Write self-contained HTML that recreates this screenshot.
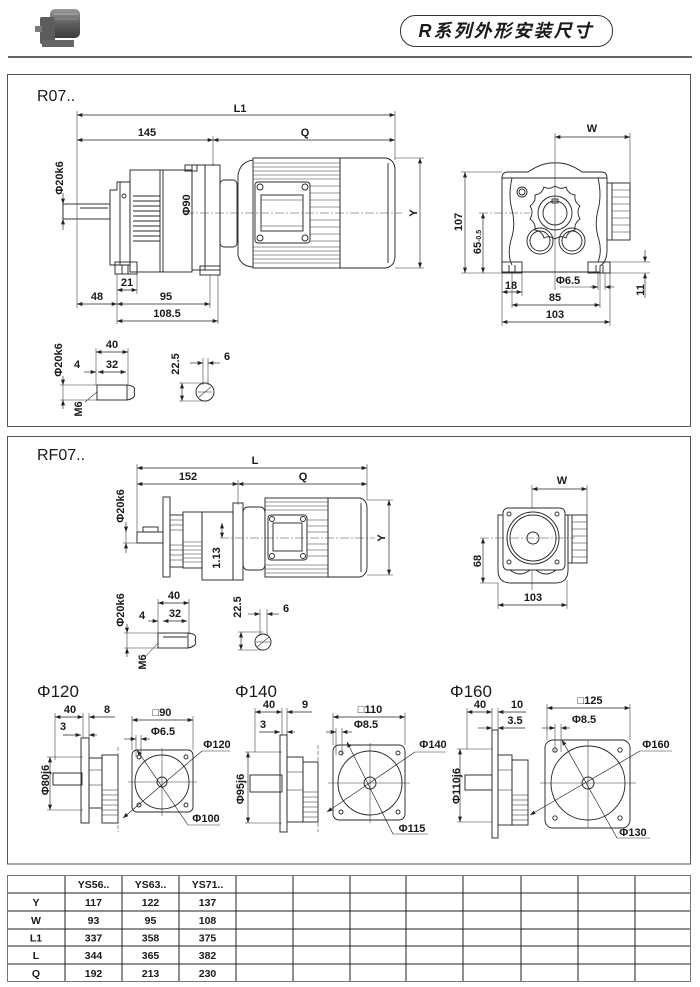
<!DOCTYPE html>
<html><head><meta charset="utf-8"><style>
html,body{margin:0;padding:0;background:#fff}
svg{display:block}
.l{fill:none;stroke:#2a2a2a;stroke-width:.95}
.e{stroke:#333;stroke-width:.55;fill:none}
.d{stroke:#222;stroke-width:.65;fill:none;marker-start:url(#a);marker-end:url(#a)}
.d1{stroke:#222;stroke-width:.65;fill:none;marker-end:url(#a)}
.c{stroke:#444;stroke-width:.55;stroke-dasharray:9 2 2 2;fill:none}
.k{stroke:#444;stroke-width:.6;stroke-dasharray:4 2;fill:none}
text{font-family:"Liberation Sans",Arial,"DejaVu Sans",sans-serif;fill:#1a1a1a}
.t{font-size:11px;font-weight:bold;text-anchor:middle}
.h{font-size:16px}
.tb{font-size:10.5px;font-weight:bold;text-anchor:middle}
</style></head><body>
<svg width="700" height="987" viewBox="0 0 700 987" xmlns="http://www.w3.org/2000/svg">
<defs>
<marker id="a" viewBox="0 0 8 6" refX="8" refY="3" markerWidth="6" markerHeight="4" markerUnits="userSpaceOnUse" orient="auto-start-reverse"><path d="M0,0L8,3L0,6z" fill="#222"/></marker>
<linearGradient id="g1" x1="0" y1="0" x2="0" y2="1"><stop offset="0" stop-color="#9a9a9a"/><stop offset=".5" stop-color="#5e5e5e"/><stop offset="1" stop-color="#3a3a3a"/></linearGradient>
</defs>

<!-- HEADER -->
<g>
<rect x="50" y="9" width="30" height="29" rx="5" fill="url(#g1)"/>
<rect x="40" y="17" width="15" height="27" rx="2" fill="#5c5c5c"/>
<rect x="35" y="26" width="7" height="6" fill="#7a7a7a"/>
<rect x="42" y="40" width="32" height="7" fill="#666"/>
<line x1="54" y1="14" x2="78" y2="14" stroke="#b0b0b0" stroke-width="1"/>
<line x1="54" y1="19" x2="78" y2="19" stroke="#999" stroke-width=".8"/>
</g>
<rect x="400.5" y="15.5" width="212" height="31" rx="15" fill="#fff" stroke="#333" stroke-width="1"/>
<text x="506" y="37" style="font-size:18px;font-style:italic;font-weight:bold;text-anchor:middle;letter-spacing:2px;font-family:'Liberation Sans','Noto Sans CJK SC',sans-serif">R系列外形安装尺寸</text>
<line x1="8" y1="57" x2="692" y2="57" stroke="#333" stroke-width="1.5"/>

<!-- FRAMES -->
<rect x="7.5" y="74.5" width="683" height="352" fill="none" stroke="#555" stroke-width="1"/>
<rect x="7.5" y="436.5" width="683" height="427.5" fill="none" stroke="#555" stroke-width="1"/>

<!-- ================= R07 ================= -->
<text x="37" y="101" class="h">R07..</text>
<line class="e" x1="77" y1="111" x2="77" y2="308"/>
<line class="e" x1="395" y1="111" x2="395" y2="160"/>
<line class="e" x1="213" y1="136" x2="213" y2="166"/>
<line class="d" x1="77" y1="115" x2="395" y2="115"/>
<line class="d" x1="77" y1="140" x2="213" y2="140"/>
<line class="d" x1="213" y1="140" x2="395" y2="140"/>
<text class="t" x="240" y="112">L1</text>
<text class="t" x="147" y="136">145</text>
<text class="t" x="305" y="136">Q</text>

<text class="t" transform="translate(59,178) rotate(-90)" y="4">Φ20k6</text>
<line class="d1" x1="63" y1="193" x2="63" y2="204"/>
<line class="d1" x1="63" y1="230" x2="63" y2="219"/>
<line class="e" x1="63" y1="204" x2="63" y2="219"/>

<g class="l">
<rect x="63" y="204" width="47" height="15"/>
<line x1="80" y1="208" x2="108" y2="208"/>
<path d="M110,190 H117 V182 H130 V265 H110 Z"/>
<line x1="120" y1="182" x2="120" y2="265"/>
<circle cx="124" cy="196" r="2"/>
<rect x="130" y="170" width="62" height="102"/>
<line x1="160" y1="170" x2="160" y2="272"/>
<line x1="163" y1="170" x2="163" y2="272"/>
<line x1="133" y1="196" x2="160" y2="196"/><line x1="133" y1="201" x2="160" y2="201"/>
<line x1="133" y1="206" x2="160" y2="206"/><line x1="133" y1="211" x2="160" y2="211"/>
<line x1="133" y1="216" x2="160" y2="216"/><line x1="133" y1="221" x2="160" y2="221"/>
<line x1="133" y1="226" x2="160" y2="226"/><line x1="133" y1="231" x2="160" y2="231"/>
<line x1="133" y1="236" x2="160" y2="236"/><line x1="133" y1="241" x2="160" y2="241"/>
<rect x="192" y="165" width="28" height="105"/>
<line x1="205" y1="165" x2="205" y2="270"/>
<rect x="185" y="165" width="12" height="6"/>
<rect x="115" y="262" width="22" height="12"/>
<line x1="122" y1="265" x2="122" y2="274"/><line x1="128" y1="265" x2="128" y2="274"/>
<rect x="200" y="266" width="20" height="9"/>
<rect x="220" y="180" width="17" height="67" rx="4"/>
<path d="M253,160 Q240,162 238,175 V255 Q240,266 253,267"/>
<rect x="253" y="158" width="87" height="110"/>
<path d="M340,158 H386 Q395,160 395,170 V256 Q395,266 386,268 H340 Z"/>
<line x1="388" y1="163" x2="388" y2="263"/>
<rect x="255" y="182" width="55" height="61" rx="3"/>
<rect x="261" y="195" width="42" height="36"/>
<circle cx="260" cy="187" r="3"/><circle cx="305" cy="187" r="3"/>
<circle cx="260" cy="238" r="3"/><circle cx="305" cy="238" r="3"/>
</g>
<g class="e">
<line x1="253" y1="163" x2="340" y2="163"/><line x1="253" y1="167" x2="340" y2="167"/>
<line x1="253" y1="171" x2="340" y2="171"/><line x1="253" y1="175" x2="340" y2="175"/>
<line x1="253" y1="179" x2="340" y2="179"/>
<line x1="253" y1="247" x2="340" y2="247"/><line x1="253" y1="251" x2="340" y2="251"/>
<line x1="253" y1="255" x2="340" y2="255"/><line x1="253" y1="259" x2="340" y2="259"/>
<line x1="253" y1="263" x2="340" y2="263"/>
<line x1="310" y1="186" x2="340" y2="186"/><line x1="310" y1="193" x2="340" y2="193"/>
<line x1="310" y1="200" x2="340" y2="200"/><line x1="310" y1="207" x2="340" y2="207"/>
<line x1="310" y1="220" x2="340" y2="220"/><line x1="310" y1="227" x2="340" y2="227"/>
<line x1="310" y1="234" x2="340" y2="234"/><line x1="310" y1="241" x2="340" y2="241"/>
<line x1="261" y1="200" x2="303" y2="200"/><line x1="261" y1="226" x2="303" y2="226"/>
</g>
<line class="c" x1="185" y1="213" x2="402" y2="213"/>
<text class="t" transform="translate(186,205) rotate(-90)" y="4">Φ90</text>

<line class="e" x1="395" y1="158" x2="424" y2="158"/>
<line class="e" x1="395" y1="268" x2="424" y2="268"/>
<line class="d" x1="420" y1="158" x2="420" y2="268"/>
<text class="t" transform="translate(413,213) rotate(-90)" y="4">Y</text>

<line class="e" x1="117" y1="274" x2="117" y2="324"/>
<line class="e" x1="137" y1="274" x2="137" y2="294"/>
<line class="e" x1="210" y1="275" x2="210" y2="308"/>
<line class="e" x1="218" y1="275" x2="218" y2="324"/>
<line class="d" x1="117" y1="290" x2="137" y2="290"/>
<text class="t" x="127" y="286">21</text>
<line class="d" x1="77" y1="304" x2="117" y2="304"/>
<text class="t" x="97" y="300">48</text>
<line class="d" x1="117" y1="304" x2="210" y2="304"/>
<text class="t" x="166" y="300">95</text>
<line class="d" x1="117" y1="321" x2="218" y2="321"/>
<text class="t" x="167" y="317">108.5</text>

<!-- R07 end view -->
<line class="e" x1="555" y1="133" x2="555" y2="290"/>
<line class="e" x1="630" y1="133" x2="630" y2="192"/>
<line class="d" x1="555" y1="137" x2="630" y2="137"/>
<text class="t" x="592" y="132">W</text>
<g class="l">
<path d="M502,272 V178 Q502,172 508,172 H528 Q543,162 555,163 Q568,162 582,172 H601 Q607,172 607,178 V250 Q607,262 600,266 V272 Z"/>
<line x1="502" y1="178" x2="607" y2="178"/>
<path d="M512,178 Q508,195 512,210 Q516,225 511,240 Q507,255 512,265"/>
<path d="M598,178 Q602,195 598,210 Q594,225 599,240 Q602,252 598,262"/>
<rect x="502" y="262" width="20" height="11"/>
<line x1="509" y1="265" x2="509" y2="273"/><line x1="515" y1="265" x2="515" y2="273"/>
<rect x="588" y="262" width="22" height="11"/>
<line x1="596" y1="265" x2="596" y2="273"/><line x1="603" y1="265" x2="603" y2="273"/>
<path d="M555,186 Q561,190 566,187 Q568,194 575,195 Q574,202 580,206 Q576,212 580,219 Q574,223 575,230 Q568,231 566,238 Q561,235 555,239 Q549,235 544,238 Q542,231 535,230 Q536,223 530,219 Q534,212 530,206 Q536,202 535,195 Q542,194 544,187 Q549,190 555,186 Z"/>
<circle cx="555" cy="213" r="17"/>
<circle cx="555" cy="213" r="12"/>
<rect x="552" y="199" width="6" height="4"/>
<circle cx="540" cy="241" r="13"/><circle cx="540" cy="241" r="10"/>
<circle cx="572" cy="241" r="13"/><circle cx="572" cy="241" r="10"/>
<circle cx="522" cy="192" r="5"/><circle cx="522" cy="192" r="3"/>
<rect x="607" y="183" width="23" height="57"/>
<line x1="612" y1="183" x2="612" y2="240"/>
</g>
<g class="e">
<line x1="612" y1="190" x2="630" y2="190"/><line x1="612" y1="197" x2="630" y2="197"/>
<line x1="612" y1="204" x2="630" y2="204"/><line x1="612" y1="211" x2="630" y2="211"/>
<line x1="612" y1="218" x2="630" y2="218"/><line x1="612" y1="225" x2="630" y2="225"/>
<line x1="612" y1="232" x2="630" y2="232"/>
</g>
<line class="e" x1="461" y1="172" x2="502" y2="172"/>
<line class="e" x1="461" y1="273" x2="502" y2="273"/>
<line class="d" x1="465" y1="172" x2="465" y2="273"/>
<text class="t" transform="translate(458,222) rotate(-90)" y="4">107</text>
<line class="c" x1="479" y1="213" x2="530" y2="213"/>
<line class="d" x1="483" y1="213" x2="483" y2="273"/>
<text class="t" transform="translate(477,242) rotate(-90)" y="4">65<tspan style="font-size:7px">-0.5</tspan></text>

<line class="e" x1="502" y1="273" x2="502" y2="326"/>
<line class="e" x1="522" y1="273" x2="522" y2="296"/>
<line class="d" x1="502" y1="292" x2="522" y2="292"/>
<text class="t" x="511" y="289">18</text>
<line class="e" x1="560" y1="287" x2="598" y2="287"/>
<line class="d1" x1="590" y1="287" x2="598" y2="287"/>
<line class="d1" x1="614" y1="287" x2="605" y2="287"/>
<line class="e" x1="598" y1="273" x2="598" y2="290"/>
<line class="e" x1="605" y1="273" x2="605" y2="290"/>
<text class="t" x="568" y="284">Φ6.5</text>
<line class="e" x1="512" y1="273" x2="512" y2="308"/>
<line class="e" x1="600" y1="273" x2="600" y2="308"/>
<line class="d" x1="512" y1="305" x2="600" y2="305"/>
<text class="t" x="555" y="301">85</text>
<line class="e" x1="610" y1="273" x2="610" y2="326"/>
<line class="d" x1="502" y1="322" x2="610" y2="322"/>
<text class="t" x="555" y="318">103</text>
<line class="e" x1="607" y1="262" x2="650" y2="262"/>
<line class="e" x1="610" y1="273" x2="650" y2="273"/>
<line class="d1" x1="645" y1="250" x2="645" y2="262"/>
<line class="d1" x1="645" y1="298" x2="645" y2="273"/>
<text class="t" transform="translate(640,290) rotate(-90)" y="4">11</text>

<!-- R07 shaft detail -->
<text class="t" transform="translate(58,360) rotate(-90)" y="4">Φ20k6</text>
<line class="d1" x1="63" y1="376" x2="63" y2="385"/>
<line class="d1" x1="63" y1="409" x2="63" y2="400"/>
<line class="e" x1="63" y1="385" x2="63" y2="400"/>
<line class="e" x1="60" y1="385" x2="97" y2="385"/>
<line class="e" x1="60" y1="400" x2="97" y2="400"/>
<line class="e" x1="96" y1="348" x2="96" y2="385"/>
<line class="e" x1="128" y1="348" x2="128" y2="385"/>
<line class="d" x1="96" y1="352" x2="128" y2="352"/>
<text class="t" x="112" y="348">40</text>
<line class="d" x1="98" y1="372" x2="126" y2="372"/>
<text class="t" x="112" y="368">32</text>
<line class="d1" x1="84" y1="372" x2="96" y2="372"/>
<text class="t" x="77" y="368">4</text>
<g class="l">
<rect x="97" y="385" width="30" height="15"/>
<path d="M127,385 Q137,386 134,392 Q137,398 127,400"/>
</g>
<text class="t" transform="translate(78,409) rotate(-90)" y="4">M6</text>
<line class="e" x1="85" y1="402" x2="97" y2="392"/>

<text class="t" transform="translate(175,364) rotate(-90)" y="4">22.5</text>
<line class="e" x1="179" y1="383" x2="207" y2="383"/>
<line class="e" x1="179" y1="401" x2="207" y2="401"/>
<line class="d" x1="182" y1="383" x2="182" y2="401"/>
<line class="e" x1="203" y1="358" x2="203" y2="385"/>
<line class="e" x1="208" y1="358" x2="208" y2="385"/>
<line class="d1" x1="190" y1="363" x2="203" y2="363"/>
<line class="d1" x1="220" y1="363" x2="208" y2="363"/>
<text class="t" x="227" y="360">6</text>
<circle class="l" cx="205" cy="392" r="9"/>
<line class="e" x1="199" y1="397" x2="211" y2="387"/>
<line class="e" x1="198" y1="392" x2="212" y2="392"/>

<!-- ================= RF07 ================= -->
<text x="37" y="460" class="h">RF07..</text>
<line class="e" x1="137" y1="464" x2="137" y2="532"/>
<line class="e" x1="367" y1="464" x2="367" y2="500"/>
<line class="e" x1="238" y1="480" x2="238" y2="505"/>
<line class="d" x1="137" y1="468" x2="367" y2="468"/>
<line class="d" x1="137" y1="484" x2="238" y2="484"/>
<line class="d" x1="238" y1="484" x2="367" y2="484"/>
<text class="t" x="255" y="464">L</text>
<text class="t" x="188" y="480">152</text>
<text class="t" x="303" y="480">Q</text>

<text class="t" transform="translate(120,506) rotate(-90)" y="4">Φ20k6</text>
<line class="d1" x1="126" y1="522" x2="126" y2="532"/>
<line class="d1" x1="126" y1="553" x2="126" y2="543"/>
<line class="e" x1="126" y1="532" x2="126" y2="543"/>
<line class="e" x1="123" y1="543" x2="137" y2="543"/>
<g class="l">
<rect x="137" y="532" width="26" height="11"/>
<rect x="143" y="527" width="15" height="5"/>
<rect x="163" y="497" width="7" height="80"/>
<rect x="170" y="515" width="13" height="52"/>
<rect x="183" y="512" width="19" height="56"/>
<rect x="202" y="512" width="31" height="68"/>
<rect x="233" y="503" width="10" height="77"/>
<rect x="243" y="507" width="22" height="63" rx="5"/>
<rect x="265" y="498" width="63" height="79"/>
<path d="M328,498 H360 Q367,500 367,508 V567 Q367,575 360,577 H328 Z"/>
<line x1="361" y1="503" x2="361" y2="572"/>
<rect x="268" y="515" width="39" height="45" rx="3"/>
<rect x="273" y="523" width="29" height="28"/>
<circle cx="272" cy="519" r="2.5"/><circle cx="303" cy="519" r="2.5"/>
<circle cx="272" cy="556" r="2.5"/><circle cx="303" cy="556" r="2.5"/>
</g>
<g class="e">
<line x1="170" y1="520" x2="183" y2="520"/><line x1="170" y1="525" x2="183" y2="525"/>
<line x1="170" y1="530" x2="183" y2="530"/><line x1="170" y1="545" x2="183" y2="545"/>
<line x1="170" y1="550" x2="183" y2="550"/><line x1="170" y1="555" x2="183" y2="555"/>
<line x1="170" y1="560" x2="183" y2="560"/>
<line x1="183" y1="542" x2="202" y2="542"/><line x1="183" y1="546" x2="202" y2="546"/>
<line x1="183" y1="550" x2="202" y2="550"/><line x1="183" y1="554" x2="202" y2="554"/>
<line x1="183" y1="558" x2="202" y2="558"/><line x1="183" y1="562" x2="202" y2="562"/>
<line x1="265" y1="502" x2="328" y2="502"/><line x1="265" y1="506" x2="328" y2="506"/>
<line x1="265" y1="510" x2="328" y2="510"/>
<line x1="265" y1="565" x2="328" y2="565"/><line x1="265" y1="569" x2="328" y2="569"/>
<line x1="265" y1="573" x2="328" y2="573"/>
<line x1="307" y1="520" x2="328" y2="520"/><line x1="307" y1="526" x2="328" y2="526"/>
<line x1="307" y1="532" x2="328" y2="532"/><line x1="307" y1="544" x2="328" y2="544"/>
<line x1="307" y1="550" x2="328" y2="550"/><line x1="307" y1="556" x2="328" y2="556"/>
</g>
<line class="c" x1="220" y1="538" x2="375" y2="538"/>
<line class="e" x1="367" y1="500" x2="393" y2="500"/>
<line class="e" x1="367" y1="575" x2="393" y2="575"/>
<line class="d" x1="389" y1="500" x2="389" y2="575"/>
<text class="t" transform="translate(381,538) rotate(-90)" y="4">Y</text>
<text class="t" transform="translate(216,558) rotate(-90)" y="4">1.13</text>
<line class="d" x1="222" y1="523" x2="222" y2="538"/>

<!-- RF07 end view -->
<line class="e" x1="532" y1="485" x2="532" y2="590"/>
<line class="e" x1="587" y1="485" x2="587" y2="520"/>
<line class="d" x1="532" y1="489" x2="587" y2="489"/>
<text class="t" x="562" y="484">W</text>
<g class="l">
<path d="M498,515 H568 V570 Q568,583 555,583 H511 Q498,583 498,570 Z"/>
<rect x="503" y="508" width="62" height="62" rx="5" fill="#fff"/>
<circle cx="533" cy="538" r="26"/>
<circle cx="533" cy="538" r="23"/>
<circle cx="533" cy="538" r="6"/>
<circle cx="509" cy="514" r="2"/><circle cx="557" cy="514" r="2"/>
<circle cx="509" cy="562" r="2"/><circle cx="557" cy="562" r="2"/>
<path d="M510,570 Q520,578 530,570 M536,570 Q546,578 556,570"/>
<rect x="568" y="515" width="19" height="48"/>
<line x1="572" y1="515" x2="572" y2="563"/>
</g>
<g class="e">
<line x1="572" y1="522" x2="587" y2="522"/><line x1="572" y1="529" x2="587" y2="529"/>
<line x1="572" y1="536" x2="587" y2="536"/><line x1="572" y1="543" x2="587" y2="543"/>
<line x1="572" y1="550" x2="587" y2="550"/><line x1="572" y1="557" x2="587" y2="557"/>
</g>
<line class="c" x1="480" y1="538" x2="575" y2="538"/>
<line class="e" x1="480" y1="583" x2="498" y2="583"/>
<line class="d" x1="483" y1="538" x2="483" y2="583"/>
<text class="t" transform="translate(477,561) rotate(-90)" y="4">68</text>
<line class="e" x1="498" y1="583" x2="498" y2="609"/>
<line class="e" x1="567" y1="580" x2="567" y2="609"/>
<line class="d" x1="498" y1="605" x2="567" y2="605"/>
<text class="t" x="533" y="601">103</text>

<!-- RF07 shaft detail -->
<text class="t" transform="translate(120,610) rotate(-90)" y="4">Φ20k6</text>
<line class="d1" x1="127" y1="624" x2="127" y2="633"/>
<line class="d1" x1="127" y1="657" x2="127" y2="648"/>
<line class="e" x1="127" y1="633" x2="127" y2="648"/>
<line class="e" x1="124" y1="633" x2="158" y2="633"/>
<line class="e" x1="124" y1="648" x2="158" y2="648"/>
<line class="e" x1="158" y1="599" x2="158" y2="633"/>
<line class="e" x1="189" y1="599" x2="189" y2="633"/>
<line class="d" x1="158" y1="603" x2="189" y2="603"/>
<text class="t" x="174" y="599">40</text>
<line class="d" x1="163" y1="621" x2="187" y2="621"/>
<text class="t" x="175" y="617">32</text>
<line class="d1" x1="148" y1="621" x2="158" y2="621"/>
<text class="t" x="142" y="619">4</text>
<g class="l">
<rect x="158" y="633" width="30" height="15"/>
<line x1="163" y1="637" x2="187" y2="637"/>
<path d="M188,633 Q198,634 195,640 Q198,646 188,648"/>
</g>
<text class="t" transform="translate(142,662) rotate(-90)" y="4">M6</text>
<line class="e" x1="146" y1="656" x2="158" y2="643"/>

<text class="t" transform="translate(237,607) rotate(-90)" y="4">22.5</text>
<line class="e" x1="238" y1="632" x2="263" y2="632"/>
<line class="e" x1="238" y1="650" x2="263" y2="650"/>
<line class="d" x1="241" y1="632" x2="241" y2="650"/>
<line class="e" x1="260" y1="609" x2="260" y2="636"/>
<line class="e" x1="267" y1="609" x2="267" y2="636"/>
<line class="d1" x1="248" y1="614" x2="260" y2="614"/>
<line class="d1" x1="279" y1="614" x2="267" y2="614"/>
<text class="t" x="286" y="612">6</text>
<circle class="l" cx="263" cy="642" r="8"/>
<line class="e" x1="257" y1="647" x2="269" y2="637"/>
<line class="e" x1="256" y1="642" x2="270" y2="642"/>

<!-- ================= Φ120 ================= -->
<text x="37" y="697" style="font-size:17px">Φ120</text>
<line class="e" x1="55" y1="713" x2="55" y2="760"/>
<line class="e" x1="83" y1="713" x2="83" y2="738"/>
<line class="e" x1="89" y1="713" x2="89" y2="738"/>
<line class="d" x1="55" y1="717" x2="83" y2="717"/>
<text class="t" x="70" y="713">40</text>
<line class="d1" x1="115" y1="717" x2="89" y2="717"/>
<text class="t" x="107" y="713">8</text>
<line class="d1" x1="63" y1="735" x2="81" y2="735"/>
<line class="d1" x1="97" y1="735" x2="89" y2="735"/>
<text class="t" x="63" y="730">3</text>
<text class="t" transform="translate(45,780) rotate(-90)" y="4">Φ80j6</text>
<line class="e" x1="47" y1="757" x2="83" y2="757"/>
<line class="e" x1="47" y1="810" x2="83" y2="810"/>
<line class="d" x1="50" y1="757" x2="50" y2="810"/>
<g class="l">
<rect x="53" y="773" width="29" height="12"/>
<rect x="81" y="738" width="8" height="85"/>
<rect x="89" y="758" width="13" height="50"/>
<rect x="102" y="755" width="16" height="68"/>
</g>
<g class="e">
<line x1="89" y1="770" x2="102" y2="770"/><line x1="89" y1="785" x2="102" y2="785"/>
<line x1="102" y1="790" x2="118" y2="790"/><line x1="102" y1="795" x2="118" y2="795"/>
<line x1="102" y1="800" x2="118" y2="800"/><line x1="102" y1="805" x2="118" y2="805"/>
<line x1="102" y1="810" x2="118" y2="810"/><line x1="102" y1="815" x2="118" y2="815"/>
</g>
<line class="k" x1="118" y1="747" x2="118" y2="832"/>
<g class="l">
<rect x="132" y="750" width="61" height="62" rx="5"/>
<circle cx="162" cy="782" r="27"/>
<circle cx="162" cy="782" r="5"/>
<circle cx="139" cy="757" r="2"/><circle cx="186" cy="757" r="2"/>
<circle cx="139" cy="805" r="2"/><circle cx="186" cy="805" r="2"/>
</g>
<line class="e" x1="128" y1="782" x2="197" y2="782"/>
<line class="e" x1="162" y1="748" x2="162" y2="816"/>
<line class="e" x1="132" y1="716" x2="132" y2="750"/>
<line class="e" x1="193" y1="716" x2="193" y2="750"/>
<line class="d" x1="132" y1="720" x2="193" y2="720"/>
<text class="t" x="162" y="716">□90</text>
<line class="e" x1="136" y1="735" x2="136" y2="757"/>
<line class="e" x1="141" y1="735" x2="141" y2="757"/>
<line class="d1" x1="124" y1="739" x2="136" y2="739"/>
<line class="d1" x1="150" y1="739" x2="141" y2="739"/>
<text class="t" x="163" y="735">Φ6.5</text>
<line class="d1" x1="202" y1="751" x2="123" y2="818"/>
<line class="e" x1="202" y1="751" x2="230" y2="751"/>
<text class="t" x="217" y="748">Φ120</text>
<line class="d1" x1="188" y1="825" x2="137" y2="750"/>
<line class="e" x1="188" y1="825" x2="220" y2="825"/>
<text class="t" x="206" y="822">Φ100</text>

<!-- ================= Φ140 ================= -->
<text x="235" y="697" style="font-size:17px">Φ140</text>
<line class="e" x1="255" y1="708" x2="255" y2="752"/>
<line class="e" x1="282" y1="708" x2="282" y2="735"/>
<line class="e" x1="287" y1="708" x2="287" y2="735"/>
<line class="d" x1="255" y1="712" x2="282" y2="712"/>
<text class="t" x="269" y="708">40</text>
<line class="d1" x1="312" y1="712" x2="287" y2="712"/>
<text class="t" x="305" y="708">9</text>
<line class="d1" x1="259" y1="732" x2="280" y2="732"/>
<line class="d1" x1="295" y1="732" x2="287" y2="732"/>
<text class="t" x="263" y="728">3</text>
<text class="t" transform="translate(240,789) rotate(-90)" y="4">Φ95j6</text>
<line class="e" x1="245" y1="752" x2="282" y2="752"/>
<line class="e" x1="245" y1="823" x2="282" y2="823"/>
<line class="d" x1="248" y1="752" x2="248" y2="823"/>
<g class="l">
<rect x="250" y="775" width="32" height="17"/>
<rect x="280" y="735" width="7" height="97"/>
<rect x="287" y="757" width="16" height="65"/>
<rect x="303" y="762" width="15" height="60"/>
</g>
<g class="e">
<line x1="287" y1="772" x2="303" y2="772"/><line x1="287" y1="790" x2="303" y2="790"/>
<line x1="303" y1="792" x2="318" y2="792"/><line x1="303" y1="797" x2="318" y2="797"/>
<line x1="303" y1="802" x2="318" y2="802"/><line x1="303" y1="807" x2="318" y2="807"/>
<line x1="303" y1="812" x2="318" y2="812"/><line x1="303" y1="817" x2="318" y2="817"/>
</g>
<line class="k" x1="318" y1="745" x2="318" y2="832"/>
<g class="l">
<rect x="333" y="745" width="72" height="75" rx="6"/>
<circle cx="370" cy="783" r="32"/>
<circle cx="370" cy="783" r="6"/>
<circle cx="341" cy="753" r="2"/><circle cx="398" cy="753" r="2"/>
<circle cx="341" cy="812" r="2"/><circle cx="398" cy="812" r="2"/>
</g>
<line class="e" x1="328" y1="783" x2="410" y2="783"/>
<line class="e" x1="370" y1="743" x2="370" y2="823"/>
<line class="e" x1="333" y1="713" x2="333" y2="745"/>
<line class="e" x1="405" y1="713" x2="405" y2="745"/>
<line class="d" x1="333" y1="717" x2="405" y2="717"/>
<text class="t" x="370" y="713">□110</text>
<line class="e" x1="336" y1="728" x2="336" y2="755"/>
<line class="e" x1="342" y1="728" x2="342" y2="755"/>
<line class="d1" x1="326" y1="732" x2="336" y2="732"/>
<line class="d1" x1="352" y1="732" x2="342" y2="732"/>
<text class="t" x="366" y="728">Φ8.5</text>
<line class="d1" x1="415" y1="752" x2="327" y2="812"/>
<line class="e" x1="415" y1="752" x2="446" y2="752"/>
<text class="t" x="433" y="748">Φ140</text>
<line class="d1" x1="393" y1="834" x2="347" y2="742"/>
<line class="e" x1="393" y1="834" x2="428" y2="834"/>
<text class="t" x="412" y="832">Φ115</text>

<!-- ================= Φ160 ================= -->
<text x="450" y="697" style="font-size:17px">Φ160</text>
<line class="e" x1="467" y1="708" x2="467" y2="749"/>
<line class="e" x1="492" y1="708" x2="492" y2="730"/>
<line class="e" x1="498" y1="708" x2="498" y2="730"/>
<line class="d" x1="467" y1="712" x2="492" y2="712"/>
<text class="t" x="480" y="708">40</text>
<line class="d1" x1="526" y1="712" x2="498" y2="712"/>
<text class="t" x="517" y="708">10</text>
<line class="d1" x1="478" y1="728" x2="492" y2="728"/>
<line class="d1" x1="525" y1="728" x2="498" y2="728"/>
<text class="t" x="515" y="724">3.5</text>
<text class="t" transform="translate(456,786) rotate(-90)" y="4">Φ110j6</text>
<line class="e" x1="457" y1="749" x2="492" y2="749"/>
<line class="e" x1="457" y1="822" x2="492" y2="822"/>
<line class="d" x1="460" y1="749" x2="460" y2="822"/>
<g class="l">
<rect x="465" y="775" width="27" height="15"/>
<rect x="492" y="730" width="6" height="108"/>
<rect x="498" y="755" width="14" height="70"/>
<rect x="512" y="760" width="16" height="65"/>
</g>
<g class="e">
<line x1="498" y1="770" x2="512" y2="770"/><line x1="498" y1="790" x2="512" y2="790"/>
<line x1="512" y1="795" x2="528" y2="795"/><line x1="512" y1="800" x2="528" y2="800"/>
<line x1="512" y1="805" x2="528" y2="805"/><line x1="512" y1="810" x2="528" y2="810"/>
<line x1="512" y1="815" x2="528" y2="815"/><line x1="512" y1="820" x2="528" y2="820"/>
</g>
<g class="l">
<rect x="545" y="740" width="85" height="88" rx="8"/>
<circle cx="588" cy="783" r="37"/>
<circle cx="588" cy="783" r="6"/>
<circle cx="555" cy="750" r="2.2"/><circle cx="620" cy="750" r="2.2"/>
<circle cx="555" cy="818" r="2.2"/><circle cx="620" cy="818" r="2.2"/>
</g>
<line class="e" x1="540" y1="783" x2="636" y2="783"/>
<line class="e" x1="588" y1="740" x2="588" y2="828"/>
<line class="e" x1="547" y1="704" x2="547" y2="740"/>
<line class="e" x1="630" y1="704" x2="630" y2="740"/>
<line class="d" x1="547" y1="708" x2="630" y2="708"/>
<text class="t" x="590" y="704">□125</text>
<line class="e" x1="555" y1="724" x2="555" y2="752"/>
<line class="e" x1="561" y1="724" x2="561" y2="752"/>
<line class="d1" x1="542" y1="728" x2="555" y2="728"/>
<line class="d1" x1="570" y1="728" x2="561" y2="728"/>
<text class="t" x="584" y="723">Φ8.5</text>
<line class="d1" x1="640" y1="751" x2="530" y2="815"/>
<line class="e" x1="640" y1="751" x2="672" y2="751"/>
<text class="t" x="656" y="748">Φ160</text>
<line class="d1" x1="617" y1="838" x2="562" y2="740"/>
<line class="e" x1="617" y1="838" x2="650" y2="838"/>
<text class="t" x="633" y="836">Φ130</text>

<!-- ================= TABLE ================= -->
<g stroke="#222" stroke-width="1">
<line x1="7" y1="893" x2="691" y2="893"/>
<line x1="7" y1="911" x2="691" y2="911"/>
<line x1="7" y1="929" x2="691" y2="929"/>
<line x1="7" y1="946" x2="691" y2="946"/>
<line x1="7" y1="964" x2="691" y2="964"/>
<line x1="65" y1="875" x2="65" y2="982"/>
<line x1="122" y1="875" x2="122" y2="982"/>
<line x1="179" y1="875" x2="179" y2="982"/>
<line x1="236" y1="875" x2="236" y2="982"/>
<line x1="293" y1="875" x2="293" y2="982"/>
<line x1="350" y1="875" x2="350" y2="982"/>
<line x1="406" y1="875" x2="406" y2="982"/>
<line x1="463" y1="875" x2="463" y2="982"/>
<line x1="521" y1="875" x2="521" y2="982"/>
<line x1="578" y1="875" x2="578" y2="982"/>
<line x1="635" y1="875" x2="635" y2="982"/>
</g>
<rect x="7.5" y="875.5" width="683" height="106" fill="none" stroke="#777" stroke-width="1"/>
<text class="tb" x="93.5" y="888">YS56..</text>
<text class="tb" x="150.5" y="888">YS63..</text>
<text class="tb" x="207.5" y="888">YS71..</text>
<text class="tb" x="36" y="906">Y</text>
<text class="tb" x="93.5" y="906">117</text>
<text class="tb" x="150.5" y="906">122</text>
<text class="tb" x="207.5" y="906">137</text>
<text class="tb" x="36" y="924">W</text>
<text class="tb" x="93.5" y="924">93</text>
<text class="tb" x="150.5" y="924">95</text>
<text class="tb" x="207.5" y="924">108</text>
<text class="tb" x="36" y="941.5">L1</text>
<text class="tb" x="93.5" y="941.5">337</text>
<text class="tb" x="150.5" y="941.5">358</text>
<text class="tb" x="207.5" y="941.5">375</text>
<text class="tb" x="36" y="959">L</text>
<text class="tb" x="93.5" y="959">344</text>
<text class="tb" x="150.5" y="959">365</text>
<text class="tb" x="207.5" y="959">382</text>
<text class="tb" x="36" y="977">Q</text>
<text class="tb" x="93.5" y="977">192</text>
<text class="tb" x="150.5" y="977">213</text>
<text class="tb" x="207.5" y="977">230</text>
</svg>
</body></html>
